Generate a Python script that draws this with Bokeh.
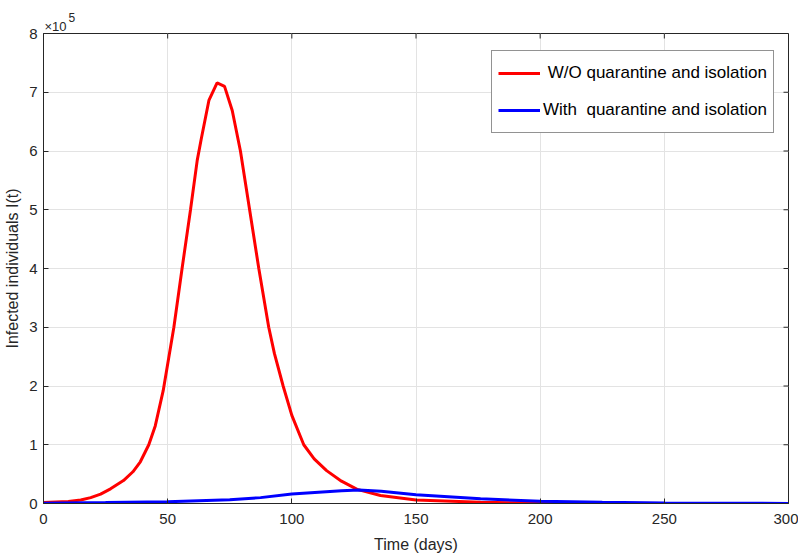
import math
from bokeh.plotting import figure
from bokeh.models import Range1d, Legend, LegendItem, FixedTicker, Title
from bokeh.embed import file_html
from bokeh.resources import INLINE

# Red: without quarantine and isolation
days_wo = [0, 5, 10, 15, 19, 23, 27, 32.2, 36, 39, 42.4, 45, 48.2, 52.5, 55.8, 59.2,
           61.9, 63.5, 66.6, 69.9, 72.9, 76, 79.3, 83, 86.7, 90.7, 93, 96.5, 100, 104.8,
           109, 114, 120, 126.3, 135.7, 150, 176, 200, 250, 300]
inf_wo = [1500, 2500, 3500, 6000, 10000, 16000, 25000, 39000, 54000, 71000, 100000,
          132000, 192000, 300000, 400000, 500000, 584000, 620000, 686000, 716000,
          710000, 669000, 600000, 500000, 400000, 300000, 255000, 200000, 150000,
          100000, 76000, 56000, 38000, 24000, 13600, 6000, 2000, 800, 100, 10]

# Blue: with quarantine and isolation
days_w = [0, 25, 50, 75, 87.4, 100, 120, 127, 136, 150, 176, 200, 225, 250, 275, 300]
inf_w = [500, 1500, 3000, 6500, 10000, 16000, 21500, 23000, 21000, 15000, 8000,
         4000, 2000, 900, 400, 200]

x_ticks = [0, 50, 100, 150, 200, 250, 300]
y_ticks = [0, 100000, 200000, 300000, 400000, 500000, 600000, 700000, 800000]
y_tick_labels = ["0", "1", "2", "3", "4", "5", "6", "7", "8"]

FONT = "Liberation Sans"
AX = "#262626"

p = figure(width=798, height=557, output_backend="svg", toolbar_location=None,
           x_range=Range1d(0, 300), y_range=Range1d(0, 800000),
           min_border_left=43, min_border_right=10, min_border_top=33, min_border_bottom=54)
p.background_fill_color = "white"
p.border_fill_color = "white"
p.outline_line_color = AX
p.outline_line_width = 1

# exponent label: outer title is the raised "5", inner title is "×10"
p.title.text = "5"
p.title.align = "left"
p.title.offset = 25
p.title.text_font = FONT
p.title.text_font_style = "normal"
p.title.text_font_size = "12px"
p.title.text_color = AX
p.title.standoff = -10
p.add_layout(Title(text="\u00d710", align="left", offset=1, standoff=0, text_font=FONT,
                   text_font_style="normal", text_font_size="13px", text_color=AX), "above")

for ax in (p.xaxis[0], p.yaxis[0]):
    ax.major_tick_in = 5
    ax.major_tick_out = 0
    ax.minor_tick_line_color = None
    ax.axis_line_color = AX
    ax.major_tick_line_color = AX
    ax.major_label_text_color = AX
    ax.major_label_text_font = FONT
    ax.major_label_text_font_size = "15px"
    ax.axis_label_text_font = FONT
    ax.axis_label_text_font_style = "normal"
    ax.axis_label_text_font_size = "16px"
    ax.axis_label_text_color = AX

p.xaxis.ticker = FixedTicker(ticks=x_ticks)
p.yaxis.ticker = FixedTicker(ticks=y_ticks)
p.yaxis.major_label_overrides = {t: l for t, l in zip(y_ticks, y_tick_labels)}
p.xaxis.axis_label = "Time (days)"
p.yaxis.axis_label = "Infected individuals I(t)"
p.xaxis.major_label_standoff = 10
p.yaxis.major_label_standoff = 6
p.xaxis.axis_label_standoff = 9
p.yaxis.axis_label_standoff = 5

p.grid.grid_line_color = "#e3e3e3"
p.grid.grid_line_width = 1
p.xgrid.ticker = FixedTicker(ticks=x_ticks)
p.ygrid.ticker = FixedTicker(ticks=y_ticks)

# inward ticks on the top and right box edges
p.ray(x=x_ticks, y=[y_ticks[-1]] * len(x_ticks), length=5, length_units="screen",
      angle=-math.pi / 2, line_color=AX, line_width=1)
p.ray(x=[x_ticks[-1]] * len(y_ticks), y=y_ticks, length=5, length_units="screen",
      angle=math.pi, line_color=AX, line_width=1)

r1 = p.line(days_wo, inf_wo, line_color="#ff0000", line_width=3)
r2 = p.line(days_w, inf_w, line_color="#0000ff", line_width=3)

legend = Legend(items=[LegendItem(label=" W/O quarantine and isolation", renderers=[r1]),
                       LegendItem(label="With  quarantine and isolation", renderers=[r2])],
                location=(448, 370))
legend.margin = 0
legend.padding = 6
legend.spacing = 5
legend.glyph_width = 42
legend.glyph_height = 32
legend.label_standoff = 3
legend.label_text_font = FONT
legend.label_text_font_size = "17px"
legend.label_text_color = "black"
legend.border_line_color = AX
legend.border_line_width = 1
legend.background_fill_alpha = 1
p.add_layout(legend)

open("out.html", "w").write(file_html(p, INLINE))
